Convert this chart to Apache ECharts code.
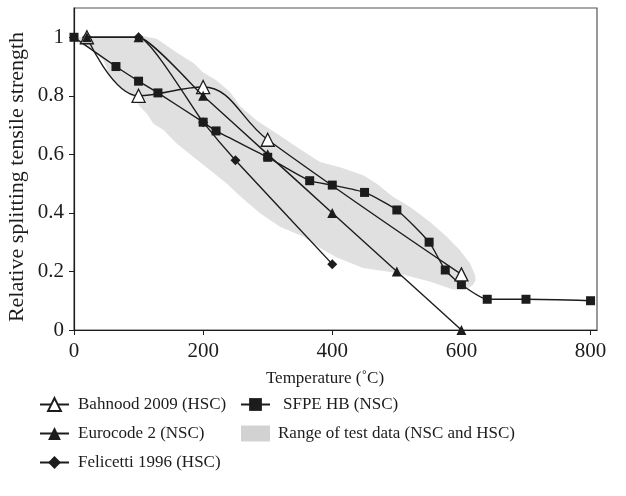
<!DOCTYPE html>
<html>
<head>
<meta charset="utf-8">
<script src="https://cdn.jsdelivr.net/npm/echarts@6/dist/echarts.min.js"></script>
<style>html,body{margin:0;padding:0;background:#fff}#c{width:626px;height:496px}</style>
</head>
<body>
<div id="c"></div>
<script>
// ---- data ----
const xTicks = [0, 200, 400, 600, 800];
const yTicks = [0, 0.2, 0.4, 0.6, 0.8, 1];
const bahnood = [[20,1],[100,0.80],[200,0.83],[300,0.65],[600,0.19]];
const eurocode = [[20,1],[100,1],[200,0.8],[300,0.6],[400,0.4],[500,0.2],[600,0]];
const felicetti = [[20,1],[100,1],[200,0.71],[250,0.58],[400,0.225]];
const sfpe = [[0,1],[65,0.9],[100,0.85],[130,0.81],[200,0.71],[220,0.68],[300,0.59],[365,0.51],[400,0.495],[450,0.47],[500,0.41],[550,0.30],[575,0.205],[600,0.155],[640,0.105],[700,0.105],[800,0.10]];
const rangeUpper = [[0,1],[60,1.0],[103,1.005],[128,0.995],[144,0.971],[159,0.948],[185,0.912],[200,0.88],[221,0.852],[242,0.812],[257,0.765],[283,0.716],[314,0.671],[345,0.625],[381,0.574],[412,0.556],[448,0.529],[469,0.50],[494,0.455],[520,0.421],[551,0.37],[577,0.319],[597,0.274],[613,0.229],[621,0.189],[622,0.17]];
const rangeLower = [[618,0.155],[608,0.138],[587,0.138],[551,0.166],[500,0.195],[448,0.212],[407,0.248],[381,0.28],[355,0.319],[319,0.353],[288,0.399],[257,0.458],[237,0.50],[211,0.546],[185,0.591],[159,0.637],[139,0.682],[123,0.705],[113,0.739],[103,0.761],[90,0.80],[69,0.835],[56,0.863],[46,0.92],[30,0.954],[5,0.982]];
const names = ['Bahnood 2009 (HSC)','Eurocode 2 (NSC)','Felicetti 1996 (HSC)','SFPE HB (NSC)','Range of test data (NSC and HSC)'];
const xTitle = 'Temperature (˚C)';
const yTitle = 'Relative splitting tensile strength';

// ---- chart ----
const FONT = 'Liberation Serif';
const INK = '#1c1c1c';
const rangePolygon = rangeUpper.concat(rangeLower);
const chart = echarts.init(document.getElementById('c'), null, {renderer:'canvas'});

function lineSeries(name, data, symbol, size, fill, z, smooth) {
  return {
    name, type:'line', data, smooth, symbol, symbolSize:size, z,
    showAllSymbols:true, animation:false,
    lineStyle:{color:INK, width:1.4},
    itemStyle:{color:fill, borderColor:INK, borderWidth: fill === '#ffffff' ? 1.3 : 0}
  };
}
function legendAt(name, left, top, gap) {
  return {
    data:[name], left, top, padding:0, itemWidth:29, itemHeight:16, itemGap:0,
    selectedMode:false,
    textStyle:{fontFamily:FONT, fontSize:17, color:INK, padding:[0,0,0,gap]}
  };
}

chart.setOption({
  animation:false,
  grid:{left:74, right:29, top:8, bottom:166, show:true, borderColor:'#555', borderWidth:1.2, backgroundColor:'transparent'},
  xAxis:{
    type:'value', min:0, max:810, interval:200,
    axisLine:{lineStyle:{color:INK, width:1.2}},
    axisTick:{inside:false, length:5, lineStyle:{color:INK}},
    splitLine:{show:false},
    axisLabel:{showMaxLabel:false, margin:11, fontFamily:FONT, fontSize:21, color:INK,
      formatter:v => xTicks.includes(v) ? String(v) : ''}
  },
  yAxis:{
    type:'value', min:0, max:1.1, interval:0.2,
    axisLine:{show:true, lineStyle:{color:INK, width:1.2}},
    axisTick:{show:true, inside:false, length:5, lineStyle:{color:INK}},
    splitLine:{show:false},
    axisLabel:{showMaxLabel:false, margin:10, fontFamily:FONT, fontSize:21, color:INK,
      formatter:v => { const t = yTicks.find(k => Math.abs(k - v) < 1e-9); return t === undefined ? '' : String(t); }}
  },
  legend:[
    legendAt(names[0], 39, 396, 4),
    legendAt(names[1], 39, 425, 4),
    legendAt(names[2], 39, 454, 4),
    legendAt(names[3], 240, 396, 8),
    Object.assign(legendAt(names[4], 241, 425, 3), {data:[{name:names[4], icon:'rect'}]})
  ],
  graphic:[
    {type:'text', x:325, y:370, style:{text:xTitle, font:'17px "Liberation Serif"', fill:INK, align:'center', verticalAlign:'top'}, z:10},
    {type:'text', x:6, y:177, rotation:Math.PI/2, style:{text:yTitle, font:'22px "Liberation Serif"', fill:INK, align:'center', verticalAlign:'top'}, z:10}
  ],
  series:[
    {
      name:names[4], type:'custom', data:rangePolygon, z:1, silent:true,
      itemStyle:{color:'#d2d2d2'},
      renderItem:(params, api) => {
        if (params.dataIndex !== 0) return null;
        const pts = rangePolygon.map(p => api.coord(p));
        return {type:'polygon', shape:{points:pts}, style:{fill:'#e0e0e0'}};
      }
    },
    lineSeries(names[3], sfpe, 'rect', 9, INK, 3, 0.2),
    lineSeries(names[2], felicetti, 'diamond', 10, INK, 2, 0.15),
    lineSeries(names[0], bahnood, 'triangle', 13, '#ffffff', 4, 0.4),
    lineSeries(names[1], eurocode, 'triangle', 10, INK, 5, 0.15)
  ]
});
</script>
</body>
</html>
